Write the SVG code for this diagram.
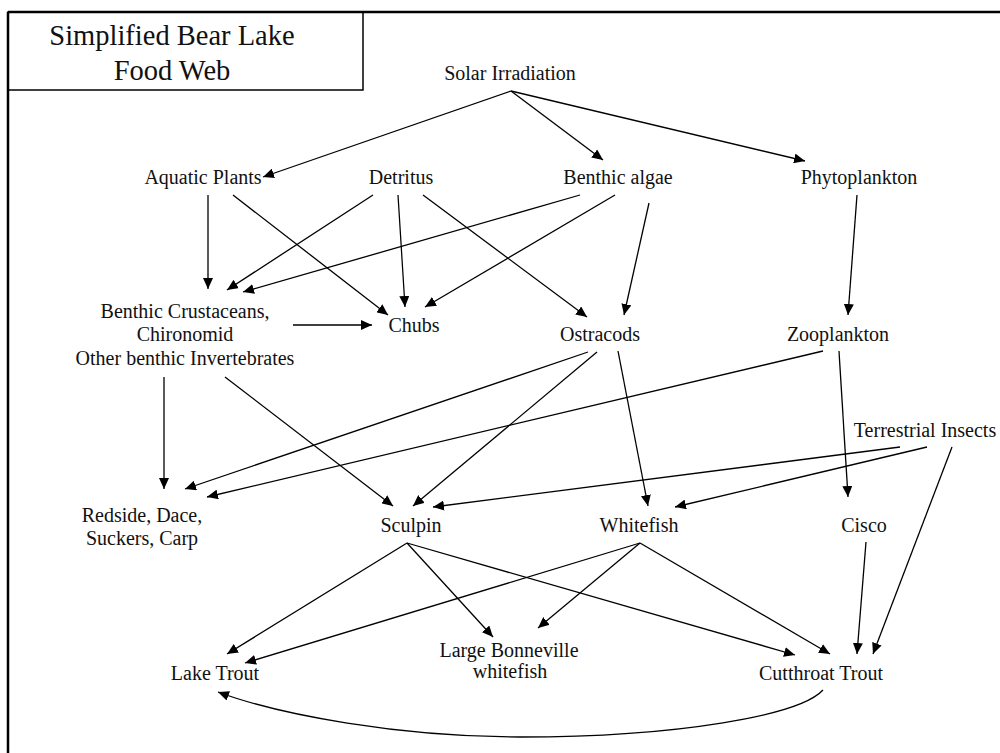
<svg xmlns="http://www.w3.org/2000/svg" width="1000" height="753" viewBox="0 0 1000 753">
<style>
text{font-family:"Liberation Serif","Times New Roman",serif;font-size:20px;fill:#111;text-anchor:middle}
text.title{font-family:"Liberation Serif","Times New Roman",serif;font-size:28.5px}
.e{fill:none;stroke:#000;stroke-width:1.3;marker-end:url(#ah)}
.frame{fill:none;stroke:#000}
</style>
<defs>
<marker id="ah" markerUnits="userSpaceOnUse" markerWidth="12" markerHeight="10" refX="11" refY="5" orient="auto">
<path d="M0,0 L11,5 L0,10 z" fill="#000"/>
</marker>
</defs>
<rect width="1000" height="753" fill="#fff"/>
<g id="frame">
<line class="frame" x1="8" y1="12" x2="1000" y2="12" stroke-width="2.5"/>
<line class="frame" x1="8" y1="12" x2="8" y2="753" stroke-width="2.5"/>
</g>
<g id="title">
<rect class="frame" x="8" y="12" width="355" height="78" stroke-width="1.5"/>
<text class="title" x="172" y="45">Simplified Bear Lake</text>
<text class="title" x="172" y="80">Food Web</text>
</g>
<g id="connectors">
<line class="e" x1="511" y1="91" x2="263" y2="177"/>
<line class="e" x1="511" y1="91" x2="603" y2="160"/>
<line class="e" x1="511" y1="91" x2="805" y2="161"/>
<line class="e" x1="208" y1="195" x2="208" y2="289"/>
<line class="e" x1="233" y1="195" x2="388" y2="315"/>
<line class="e" x1="373" y1="195" x2="227" y2="290"/>
<line class="e" x1="398" y1="195" x2="405" y2="307"/>
<line class="e" x1="423" y1="195" x2="587" y2="317"/>
<line class="e" x1="580" y1="195" x2="243" y2="292"/>
<line class="e" x1="615" y1="195" x2="425" y2="307"/>
<line class="e" x1="649" y1="203" x2="624" y2="315"/>
<line class="e" x1="857" y1="195" x2="848" y2="315"/>
<line class="e" x1="293" y1="325" x2="372" y2="325"/>
<line class="e" x1="164" y1="377" x2="164" y2="489"/>
<line class="e" x1="225" y1="377" x2="393" y2="506"/>
<line class="e" x1="588" y1="352" x2="185" y2="489"/>
<line class="e" x1="823" y1="351" x2="207" y2="497"/>
<line class="e" x1="597" y1="352" x2="413" y2="506"/>
<line class="e" x1="618" y1="351" x2="648" y2="506"/>
<line class="e" x1="839" y1="351" x2="848" y2="497"/>
<line class="e" x1="900" y1="447" x2="433" y2="507"/>
<line class="e" x1="927" y1="447" x2="675" y2="507"/>
<line class="e" x1="952" y1="447" x2="873" y2="654"/>
<line class="e" x1="866" y1="542" x2="857" y2="654"/>
<line class="e" x1="407" y1="543" x2="227" y2="654"/>
<line class="e" x1="407" y1="543" x2="493" y2="637"/>
<line class="e" x1="407" y1="543" x2="795" y2="655"/>
<line class="e" x1="640" y1="543" x2="245" y2="663"/>
<line class="e" x1="640" y1="543" x2="538" y2="628"/>
<line class="e" x1="640" y1="543" x2="830" y2="654"/>
<path class="e" d="M823,690 C800,715 680,737 520,737 C400,737 280,715 218,692"/>
</g>
<g id="solar"><text x="510" y="80">Solar Irradiation</text></g>
<g id="aquatic-plants"><text x="203" y="184">Aquatic Plants</text></g>
<g id="detritus"><text x="401" y="184">Detritus</text></g>
<g id="benthic-algae"><text x="618" y="184">Benthic algae</text></g>
<g id="phytoplankton"><text x="859" y="184">Phytoplankton</text></g>
<g id="benthic-crustaceans">
<text x="185" y="318">Benthic Crustaceans,</text>
<text x="185" y="341">Chironomid</text>
<text x="185" y="365">Other benthic Invertebrates</text>
</g>
<g id="chubs"><text x="414" y="332">Chubs</text></g>
<g id="ostracods"><text x="600" y="341">Ostracods</text></g>
<g id="zooplankton"><text x="838" y="341">Zooplankton</text></g>
<g id="terrestrial-insects"><text x="925" y="437">Terrestrial Insects</text></g>
<g id="redside">
<text x="142" y="522">Redside, Dace,</text>
<text x="142" y="545">Suckers, Carp</text>
</g>
<g id="sculpin"><text x="411" y="532">Sculpin</text></g>
<g id="whitefish"><text x="639" y="532">Whitefish</text></g>
<g id="cisco"><text x="864" y="532">Cisco</text></g>
<g id="lake-trout"><text x="215" y="680">Lake Trout</text></g>
<g id="large-bonneville">
<text x="509" y="657">Large Bonneville</text>
<text x="510" y="678">whitefish</text>
</g>
<g id="cutthroat"><text x="821" y="680">Cutthroat Trout</text></g>
</svg>
